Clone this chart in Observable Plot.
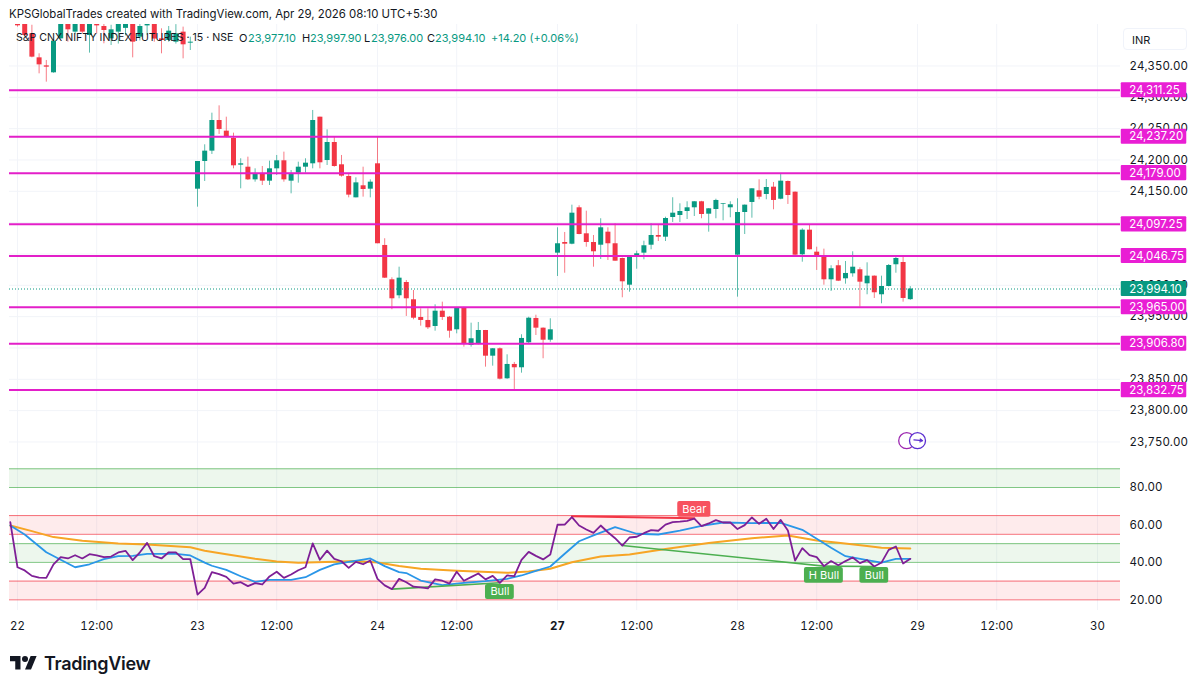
<!DOCTYPE html>
<html><head><meta charset="utf-8">
<script src="https://cdn.jsdelivr.net/npm/d3@7"></script>
<script src="https://cdn.jsdelivr.net/npm/@observablehq/plot@0.6"></script>
<style>
html,body{margin:0;padding:0;background:#fff;overflow:hidden}
#page{position:relative;width:1200px;height:691px;font-family:Inter,"Noto Sans",sans-serif;color:#131722}
#page svg{display:block}
#head{height:24px;line-height:28px;font-size:11.4px;padding-left:9px;box-sizing:border-box;white-space:nowrap}
.lg{position:absolute;top:31px;font-size:11px;line-height:14px;white-space:nowrap;color:#131722}
.lg.v{color:#089981}
#inr{position:absolute;left:1123px;top:28px;width:64px;height:22px;line-height:22px;font-size:11px;border:1px solid #f0f3fa;border-radius:4px;box-sizing:border-box;padding-left:8px}
#logo{position:absolute;left:10px;top:653px;display:flex;align-items:center}
#logo span{font-size:18px;font-weight:600;letter-spacing:-.3px;margin-left:7px;color:#131722}
</style></head><body>
<div id="page">
<div id="head">KPSGlobalTrades created with TradingView.com, Apr 29, 2026 08:10 UTC+5:30</div>
<div id="chart"></div>
<div class="lg" style="left:16px;font-size:10.6px">S&amp;P CNX NIFTY INDEX FUTURES · 15 · NSE</div>
<div class="lg" style="left:239px">O</div><div class="lg v" style="left:248px">23,977.10</div>
<div class="lg" style="left:302px">H</div><div class="lg v" style="left:310px">23,997.90</div>
<div class="lg" style="left:364px">L</div><div class="lg v" style="left:371px">23,976.00</div>
<div class="lg" style="left:427px">C</div><div class="lg v" style="left:435px">23,994.10</div>
<div class="lg v" style="left:491px">+14.20 (+0.06%)</div>
<div id="inr">INR</div>
<div id="logo"><svg width="27" height="21" viewBox="0 0 36 28"><path d="M14 22H7V11H0V4h14v18zM28 22h-8l7.5-18h8L28 22z" fill="#131722"/><circle cx="20" cy="8" r="4" fill="#131722"/></svg><span>TradingView</span></div>
</div>
<script>
const opens=[24425,24430,24401.3,24363,24350.2,24339.1,24393.3,24420,24404,24425,24398.6,24418,24413,24393.3,24404,24410,24425,24396,24414,24424,24393.3,24390.7,24388,24404,24386.4,
24153.4,24197.6,24214.1,24263,24246,24234.3,24191.7,24188.5,24168.3,24177.9,24166.2,24185.9,24198.7,24166.2,24179,24188.5,24193.9,24268.3,24199.2,24227.9,24192.3,24173.7,24139.6,24158.8,24153.4,
24193.9,24063.6,24008.8,23983.3,24004.5,23976.9,23948.7,23943.9,23934.3,23958.7,23949.1,23929,23963.5,23904,23905.6,23927.9,23886.9,23898.7,23850.8,23873.7,23868.4,23908.3,23947.1,23931.6,23912.4,
24051.3,24068.3,24065.6,24123.7,24082.2,24068.3,24064,24084.8,24066.3,24042.8,24000.2,24046.5,24051.3,24064,24079.5,24076.8,24108.2,24111.4,24117.8,24123.7,24133.3,24113.5,24121,24129,24123.7,
24048.1,24116.2,24132.2,24150.8,24144.9,24156.6,24137.4,24165.7,24148.6,24048.7,24088,24052.9,24047.1,24008.8,24031.2,24010.4,24018.4,24024.8,24002.4,24014.6,23984.9,23998.1,24032.8,24036.4,23977.1];
const highs=[24435,24440,24415,24369.4,24358.8,24392,24432,24430,24430,24432,24435,24428,24418,24415,24430,24428,24432,24420,24428,24430,24409.3,24413,24416,24412,24396,
24197.6,24224.2,24274.7,24286.4,24268.3,24242.8,24201.9,24204.5,24185.9,24189.6,24198.1,24207.2,24212.5,24183.2,24196.5,24201.9,24279,24268.3,24248.1,24236.4,24207.2,24177.9,24171.5,24188.5,24168.3,
24236.4,24074.3,24012,24028.9,24007.7,23991.7,23962.5,23962.5,23968.9,23973.1,23950.3,23963.5,23965,23939.6,23940.7,23928,23899,23900,23889.1,23876.9,23921.1,23949.1,23952.3,23932,23946.6,
24091.8,24084.3,24127.9,24126.9,24118.3,24079.5,24106.2,24091.8,24098.2,24043.5,24046.5,24054.5,24070.4,24098.2,24095.5,24108.7,24139.7,24130.1,24133.3,24133.5,24134,24122.5,24137.4,24130.5,24133.3,
24138.1,24128.2,24154.2,24168.4,24168.9,24164.1,24178,24166.5,24149,24090.2,24095.5,24060.8,24057.7,24031.2,24039.6,24038,24053.5,24028,24035.9,24015,24014.6,24033.2,24046,24046,23997.9];
const lows=[24412,24398,24363,24337.5,24324.2,24338.5,24393,24388,24400,24402,24370.5,24401,24385.4,24382.7,24385,24398,24363,24390,24398.6,24388,24369.4,24388,24385,24361.4,24374.7,
24124.7,24165.7,24208.8,24240.7,24235.4,24185.9,24154,24167.3,24164.6,24159.3,24159.3,24175.3,24164.6,24146,24163,24179,24185.9,24185.9,24191.2,24188.5,24172.6,24139.6,24139.6,24140.7,24139.6,
24066.3,24010.9,23961,23978.5,23950.3,23945,23934.8,23929.5,23926.8,23943.9,23915.6,23922.6,23901.3,23901.3,23905,23869.4,23871,23849,23850,23833.8,23859.8,23905.6,23919.9,23882.8,23909.2,
24014.1,24019.3,24064.7,24080.6,24060.8,24028.9,24041.2,24039.6,24038.5,23980.1,23989,24025.7,24040.7,24056.7,24069.9,24069.9,24100.3,24100.3,24105,24109.8,24106.2,24084.8,24106.2,24103,24107.8,
23981.1,24081.1,24107.1,24136.5,24136.5,24120.5,24136.5,24129,24047.5,24036.9,24056.5,24023.7,24000.2,23990.2,24006,24001.8,24013,23965.1,23984.9,23979,23970.5,23997.5,24019.3,23973.1,23976];
const closes=[24414.1,24398.6,24364.1,24351.8,24348.1,24389.6,24425,24407.7,24422,24404,24424,24414,24406.6,24407.7,24421,24420,24388,24413,24418,24393,24390.7,24405.6,24401.3,24383.8,24388,
24197.6,24214.1,24263,24248.7,24236.4,24190.7,24193.9,24168.3,24176.8,24166.2,24185.9,24198.7,24168.3,24176.8,24188.5,24194.9,24263,24195.5,24227.9,24189.6,24174.2,24143.9,24163.5,24152.9,24164.6,
24066.3,24011.4,23978.5,24011.4,23978.5,23947.5,23943.9,23932.2,23958.7,23948.7,23926.8,23963.5,23905.6,23914.7,23927.9,23886.9,23898.7,23850.2,23873.7,23868.4,23915.2,23947.5,23931.6,23912.4,23929,
24066.3,24065.6,24115.1,24081.1,24068.3,24053.5,24091.8,24066.3,24038.5,24005.6,24046,24050.3,24063.1,24079.5,24076.8,24106.6,24115.1,24117.8,24123.7,24133.3,24113,24122.1,24135.4,24130.1,24128.5,
24116.2,24127.9,24154,24140.6,24156.1,24135.4,24166.2,24143.3,24048.1,24088,24056.7,24047.1,24008.8,24026.4,24006.6,24018.9,24028.9,24005,24014.6,23988.1,23998.1,24031.6,24042.8,23979,23994.1];
const levels=[24311.25,24237.20,24179.00,24097.25,24046.75,23965.00,23906.80,23832.75];
const lastPrice=[23994.10];
const priceGrid=[23750,23800,23850,23900,23950,24000,24050,24100,24150,24200,24250,24300,24350];
const priceTicks=[23750,23800,23850,23950,24000,24150,24200,24250,24300,24350];
const rsiTicks=[20,40,60,80];
const timeTicks=[0,11,25,36,50,61,86,100,111,125,136,150];
const timeLabels=["22","12:00","23","12:00","24","12:00","12:00","28","12:00","29","12:00","30"];
const boldTicks=[75];
const boldLabels=["27"];
const rsiValues=[61.5,37.4,35.7,32.8,31.9,31.7,38.9,42.8,42.1,43.8,42.1,44.4,43.8,42.8,43.1,45.3,46.2,41.2,45.4,50.4,43.3,42.1,45.4,45.4,41.7,41.7,22.8,26.4,34.8,33.7,32.3,28.7,29.4,27.3,28.9,28.2,32.5,35,31.7,33.5,35.8,37.4,50.1,41.4,46.3,41.9,40.6,37.1,40.3,39,41,31.2,27.7,25.7,31.2,29.4,27,26.6,26.1,30.9,30.2,28.7,35,30.2,32.1,34.1,30.9,32.8,29.1,33,32.7,41.4,45.6,43.5,41.6,44.2,60.1,60.2,64.2,59.7,57.6,55.8,59.7,56.1,52.9,49,53.3,53.7,55.6,57.2,56.9,60.2,61.5,61.8,62.2,63.4,59.4,60.8,62.6,61.3,61.3,57.8,59.9,64,60.6,63.3,57.8,62.7,57,41,47.6,43.9,42.8,38,40.7,38.5,40.7,42.6,39.6,41.2,37.8,39.9,46.7,48.5,39.4,41.9];
const blueIdx=[-1,1,4,6,8,10,12,14,16,18,22,24,26,27,29,31,33,35,38,40,42,44,46,48,49,51,53,54,56,59,62,65,68,70,72,74,76,78,80,83,86,89,92,95,98,102,106,109,111,113,115,118,120,122,124];
const blueVals=[59.7,54.9,45.4,41.4,37.4,39,41.7,43.3,43.5,44.6,44.6,43.7,39.9,38.2,36,32.6,29.6,30.7,30.7,32.1,36,38.9,40.3,41.5,42.1,38,34.8,34.3,30.3,27.8,29.1,30,31.2,33,35.5,37.8,44.6,51.3,54.4,58.8,55.3,54.9,57,59.5,61.3,61,61.1,57.4,52.6,47.8,43.3,41.2,39.9,41.9,41.9];
const orangeIdx=[-1,2,5,9,14,18,24,26,29,33,36,39,44,47,50,53,56,61,68,71,74,77,81,85,90,96,102,107,111,114,118,120,124];
const orangeVals=[59.7,56.7,53.5,51.5,50.1,49.5,48.1,46.2,44.4,41.9,40.5,39.8,40.3,40.8,39.9,38.1,36.6,35.5,34.4,35.1,36.6,40.1,43.1,44.2,47.2,50.3,52.9,54.4,51.7,50.5,48.7,47.8,47.4];
const bandLow=[80,55,40,20];
const bandHigh=[90,65,50,30];
const bandColor=["#4caf50","#f23645","#4caf50","#f23645"];
const bearFrom=[77,64.7], bearTo=[94,63.6];
const bullSegments=[[52,25.7,67,29.1],[84,49,112,38],[112,38,119,37.8]];
const tagNames=["Bear","Bull","H Bull","Bull"];
const tagAt=[94,67,112,119];
const tagHalf=[2.3,2,2.7,2];
const tagTop=[72.5,28.2,37.3,37.3];
const tagBottom=[64.1,20.2,28.9,28.9];
const tagColor=["#f7525f","#4caf50","#4caf50","#4caf50"];

const candles=opens.map((o,i)=>({i,o,h:highs[i],l:lows[i],c:closes[i],col:closes[i]>=o?"#089981":"#f23645"}));
const rsi=rsiValues.map((v,k)=>({i:k-1,v}));
const blue=blueIdx.map((i,k)=>({i,v:blueVals[k]}));
const orange=orangeIdx.map((i,k)=>({i,v:orangeVals[k]}));
const bands=bandLow.map((a,k)=>({a,b:bandHigh[k],col:bandColor[k]}));
const tags=tagNames.map((t,k)=>({t,at:tagAt[k],h:tagHalf[k],top:tagTop[k],bot:tagBottom[k],col:tagColor[k]}));
const money=d3.format(",.2f");
const LEFT=9, RIGHT=1120, W=1200;
const xDomain=[(LEFT-17)/7.2,(RIGHT-17)/7.2];
const boxL=153.3, boxR=162.4;
const font='Inter,"Noto Sans",sans-serif';
const grid="#f2f4f9";
const vertTicks=timeTicks.concat(boldTicks);

const pricePane=Plot.plot({
  width:W,height:428,marginLeft:LEFT,marginRight:W-RIGHT,marginTop:0,marginBottom:0,
  style:{fontFamily:font,fontSize:"11.5px",background:"transparent",overflow:"visible"},
  x:{domain:xDomain,axis:null},
  y:{domain:[23733.2,24416.2],axis:null},
  marks:[
    Plot.ruleX(vertTicks,{stroke:grid}),
    Plot.ruleY(priceGrid,{stroke:grid}),
    Plot.axisY({anchor:"right",ticks:priceTicks,tickFormat:money,tickSize:0,tickPadding:9,label:null,fill:"#131722",fontSize:11.5}),
    Plot.ruleX(candles,{x:"i",y1:"l",y2:"h",stroke:"col",strokeWidth:1,strokeOpacity:.65,clip:true}),
    Plot.ruleX(candles,{x:"i",y1:"o",y2:"c",stroke:"col",strokeWidth:5,clip:true}),
    Plot.ruleY(levels,{stroke:"#e31fc9",strokeWidth:2}),
    Plot.ruleY(lastPrice,{stroke:"#089981",strokeWidth:1,strokeDasharray:"1 2"}),
    Plot.rect(levels.concat(lastPrice),{x1:()=>boxL,x2:()=>boxR,y1:d=>d-12,y2:d=>d+12,fill:d=>d===lastPrice[0]?"#089981":"#e91ed4",rx:1}),
    Plot.text(levels.concat(lastPrice),{x:()=>boxL+1.1,y:d=>d,text:money,textAnchor:"start",fill:"#fff",fontSize:11.5}),
    Plot.dot([23752],{x:()=>123.5,y:d=>d,r:8,stroke:"#9c27b0",strokeWidth:1.3,fill:"#fff"}),
    Plot.dot([23752],{x:()=>125,y:d=>d,r:8,stroke:"#5b2fd0",strokeWidth:1.3,fill:"#fff"}),
    Plot.arrow([23752],{x1:()=>124.5,x2:()=>125.7,y1:d=>d+1.5,y2:d=>d,stroke:"#5b2fd0",strokeWidth:1.2,headLength:5,bend:0})
  ]
});

const rsiPane=Plot.plot({
  width:W,height:183,marginLeft:LEFT,marginRight:W-RIGHT,marginTop:0,marginBottom:25,
  style:{fontFamily:font,fontSize:"11.5px",background:"transparent",overflow:"visible"},
  x:{domain:xDomain,axis:null},
  y:{domain:[14.3,98.7],axis:null},
  marks:[
    Plot.ruleX(vertTicks,{stroke:grid}),
    Plot.rect(bands,{y1:"a",y2:"b",fill:"col",fillOpacity:.1}),
    Plot.ruleY(bands,{y:"a",stroke:"col",strokeOpacity:.7,strokeWidth:1}),
    Plot.ruleY(bands,{y:"b",stroke:"col",strokeOpacity:.7,strokeWidth:1}),
    Plot.axisY({anchor:"right",ticks:rsiTicks,tickFormat:d3.format(".2f"),tickSize:0,tickPadding:9,label:null,fill:"#131722",fontSize:11.5}),
    Plot.axisX({anchor:"bottom",ticks:timeTicks,tickFormat:d=>timeLabels[timeTicks.indexOf(d)],tickSize:0,tickPadding:11,label:null,fill:"#131722",fontSize:11.5}),
    Plot.axisX({anchor:"bottom",ticks:boldTicks,tickFormat:d=>boldLabels[boldTicks.indexOf(d)],tickSize:0,tickPadding:11,label:null,fill:"#131722",fontSize:11.5,fontWeight:700}),
    Plot.line(orange,{x:"i",y:"v",stroke:"#f7a525",strokeWidth:2}),
    Plot.line(blue,{x:"i",y:"v",stroke:"#2a96e8",strokeWidth:1.8}),
    Plot.line([bearFrom,bearTo],{x:d=>d[0],y:d=>d[1],stroke:"#f23645",strokeWidth:2}),
    Plot.link(bullSegments,{x1:d=>d[0],y1:d=>d[1],x2:d=>d[2],y2:d=>d[3],stroke:"#4caf50",strokeWidth:1.6}),
    Plot.line(rsi,{x:"i",y:"v",stroke:"#7e1f96",strokeWidth:1.8}),
    Plot.rect(tags,{x1:d=>d.at-d.h,x2:d=>d.at+d.h,y1:"bot",y2:"top",fill:"col",rx:2}),
    Plot.text(tags,{x:"at",y:d=>(d.top+d.bot)/2,text:"t",fill:"#fff",fontSize:11})
  ]
});
document.getElementById("chart").append(pricePane,rsiPane);
</script>
</body></html>
